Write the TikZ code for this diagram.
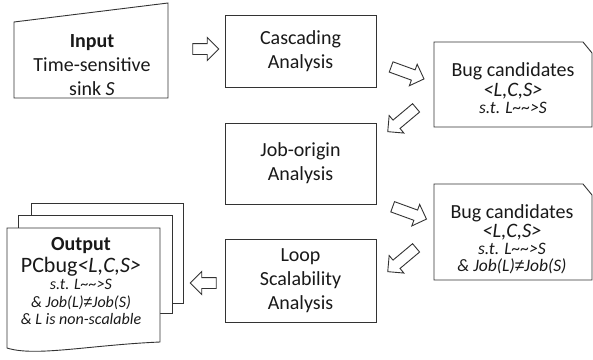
\documentclass[tikz,border=0pt]{standalone}
\usepackage{fontspec}
\setmainfont{Carlito}
\newfontfamily\symfam{Liberation Sans}
\usetikzlibrary{shapes.arrows,shapes.geometric}
\newcommand{\fA}{\fontsize{20}{24}\selectfont}
\newcommand{\fB}{\fontsize{20.5}{19}\selectfont\itshape}
\newcommand{\fC}{\fontsize{17.5}{17}\selectfont\itshape}
\newcommand{\fD}{\fontsize{16}{17.5}\selectfont\itshape}
\newcommand{\squig}{\textasciitilde\textasciitilde}
\newcommand{\nequal}{{\symfam\itshape ≠}}
\begin{document}
\begin{tikzpicture}[x=1pt,y=-1pt,
  line/.style={draw=black!80, line width=0.9pt},
  txt/.style={text=black!90, align=center, inner sep=0pt},
  procbox/.style={line, txt, fill=white, minimum width=151pt, font=\fA},
  harrow/.style={line, fill=white, single arrow, single arrow head extend=6pt, single arrow head indent=0pt, inner sep=5pt, minimum width=0pt},
]
\useasboundingbox (0,0) rectangle (593,359);

% input (manual input shape)
\draw[line] (14,22) -- (168,3) -- (168,98) -- (14,98) -- cycle;
\node[txt, font=\fA] (input) at (92,65) {\textbf{Input}\\Time-sensitive\\sink \textit{S}};

% process boxes
\node[procbox, minimum height=72pt] (casc) at (300.5,51) {Cascading\\Analysis};
\node[procbox, minimum height=81pt] (job) at (300.5,163.5) {Job-origin\\Analysis};
\node[procbox, minimum height=83pt] (loop) at (300.5,280.5) {Loop\\Scalability\\Analysis};

% bug candidate cards
\draw[line] (434,42) -- (583,42) -- (592,53) -- (592,127) -- (434,127) -- cycle;
\node[txt, font=\fontsize{17}{17}\selectfont] (bug1) at (513,88) {{\fA Bug candidates}\\[3pt]
  {\fB <L,C,S>}\\
  {\fC s.t. L\squig>S}};

\draw[line] (434,184) -- (583,184) -- (592,195) -- (592,280) -- (434,280) -- cycle;
\node[txt, font=\fontsize{17}{17}\selectfont] (bug2) at (512,239.5) {{\fA Bug candidates}\\[2.5pt]
  {\fB <L,C,S>}\\
  {\fC s.t. L\squig>S}\\
  {\fC \& Job(L)\nequal Job(S)}};

% output (stacked documents)
\draw[line, fill=white] (31,203) rectangle (183,303);
\draw[line, fill=white] (18,215) rectangle (172,313);
\draw[line, fill=white] (7,228) -- (160,228) -- (160,342) .. controls (90,345) and (35,357) .. (7,348) -- cycle;
\node[txt, font=\fontsize{16}{17.5}\selectfont] (out) at (81,281) {{\fontsize{20}{20}\selectfont\bfseries Output}\\[3pt]
  {\fontsize{22}{21}\selectfont PCbug\textit{<L,C,S>}}\\
  {\fD s.t. L\squig>S}\\
  {\fD \& Job(L)\nequal Job(S)}\\
  {\fD \& L is non-scalable}};

% hollow arrows
\node[harrow, minimum height=26pt] (a1) at (203,49) {};
\node[harrow, minimum height=35pt, rotate=-20] (a2) at (405,72) {};
\node[harrow, minimum height=37pt, rotate=220] (a3) at (404,118) {};
\node[harrow, minimum height=36pt, rotate=-20] (a4) at (407,212) {};
\node[harrow, minimum height=37pt, rotate=220] (a5) at (404,258) {};
\node[harrow, minimum height=26pt, rotate=180] (a6) at (206,283) {};
\end{tikzpicture}
\end{document}
